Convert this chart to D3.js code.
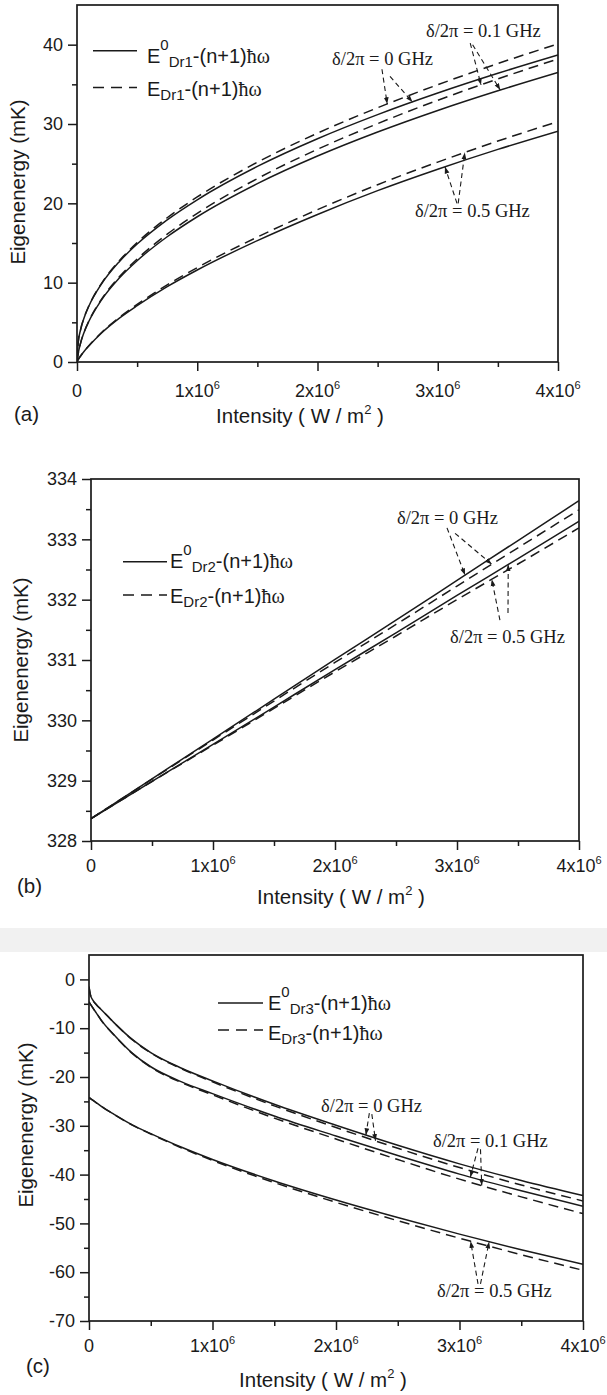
<!DOCTYPE html>
<html><head><meta charset="utf-8">
<script src="https://cdn.jsdelivr.net/npm/d3@7/dist/d3.min.js"></script>
<style>body{margin:0;background:#fff}svg{display:block}</style>
</head><body>
<svg id="chart" width="607" height="1395"></svg>
<script>
// ---------------- DATA ----------------
const xTickValues = [0, 1e6, 2e6, 3e6, 4e6];
const xMinorValues = [0.5e6, 1.5e6, 2.5e6, 3.5e6];
const xTickMantissa = ["0", "1x10", "2x10", "3x10", "4x10"];
const xTickExponent = ["", "6", "6", "6", "6"];

// Panel (a) — Dr1
const intensityA = [0, 1e4, 3e4, 6e4, 1e5, 2e5, 3.5e5, 5e5, 7.5e5, 1e6, 1.5e6, 2e6, 2.5e6, 3e6, 3.5e6, 4e6];
const a_E0_0GHz  = [0, 2.46, 4.08, 5.61, 7.09, 9.75, 12.62, 14.87, 17.92, 20.45, 24.65, 28.14, 31.18, 33.90, 36.39, 38.70];
const a_E_0GHz   = [0, 2.46, 4.09, 5.63, 7.12, 9.82, 12.74, 15.05, 18.18, 20.80, 25.18, 28.84, 32.05, 34.95, 37.62, 40.10];
const a_E0_01GHz = [0, 1.08, 2.40, 3.78, 5.17, 7.74, 10.55, 12.77, 15.79, 18.31, 22.48, 25.96, 28.99, 31.71, 34.19, 36.50];
const a_E_01GHz  = [0, 1.08, 2.41, 3.81, 5.21, 7.83, 10.70, 12.98, 16.11, 18.74, 23.12, 26.81, 30.05, 32.99, 35.68, 38.20];
const a_E0_05GHz = [0, 0.30, 0.75, 1.35, 2.05, 3.60, 5.50, 7.10, 9.50, 11.60, 15.30, 18.60, 21.60, 24.30, 26.80, 29.10];
const a_E_05GHz  = [0, 0.30, 0.76, 1.37, 2.08, 3.66, 5.61, 7.25, 9.73, 11.90, 15.75, 19.20, 22.35, 25.20, 27.85, 30.30];
const yTicksA = [0, 10, 20, 30, 40];
const yMinorA = [5, 15, 25, 35];

// Panel (b) — Dr2
const intensityB = [0, 0.5e6, 1e6, 1.5e6, 2e6, 2.5e6, 3e6, 3.5e6, 4e6];
const b_E0_0GHz  = [328.37, 329.03, 329.69, 330.35, 331.01, 331.66, 332.32, 332.98, 333.64];
const b_E_0GHz   = [328.37, 329.025, 329.674, 330.319, 330.96, 331.589, 332.225, 332.859, 333.49];
const b_E0_05GHz = [328.37, 328.99, 329.60, 330.22, 330.84, 331.45, 332.07, 332.68, 333.30];
const b_E_05GHz  = [328.37, 328.986, 329.588, 330.197, 330.804, 331.398, 332.001, 332.591, 333.19];
const yTicksB = [328, 329, 330, 331, 332, 333, 334];
const yMinorB = [328.5, 329.5, 330.5, 331.5, 332.5, 333.5];

// Panel (c) — Dr3
const intensityC = [0, 1e4, 3e4, 6e4, 1e5, 2e5, 3.5e5, 5e5, 7.5e5, 1e6, 1.5e6, 2e6, 2.5e6, 3e6, 3.5e6, 4e6];
const c_E0_0GHz  = [-1.5, -3.0, -4.2, -5.2, -6.2, -8.8, -12.3, -15.0, -18.2, -20.8, -25.6, -29.9, -34.0, -37.8, -41.2, -44.3];
const c_E_0GHz   = [-1.5, -3.0, -4.2, -5.2, -6.21, -8.82, -12.35, -15.07, -18.32, -20.98, -25.91, -30.35, -34.6, -38.56, -42.13, -45.4];
const c_E0_01GHz = [-4.6, -5.0, -5.8, -6.9, -8.4, -11.3, -15.1, -17.9, -21.0, -23.4, -28.0, -32.1, -36.1, -39.9, -43.3, -46.5];
const c_E_01GHz  = [-4.6, -5.0, -5.8, -6.9, -8.41, -11.33, -15.16, -18.0, -21.17, -23.65, -28.42, -32.71, -36.91, -40.93, -44.56, -48.0];
const c_E0_05GHz = [-24.2, -24.38, -24.74, -25.28, -26.0, -27.6, -29.8, -31.6, -34.4, -36.9, -41.3, -45.2, -48.8, -52.2, -55.4, -58.4];
const c_E_05GHz  = [-24.2, -24.38, -24.74, -25.28, -26.01, -27.62, -29.85, -31.68, -34.54, -37.1, -41.63, -45.69, -49.45, -53.03, -56.41, -59.6];
const yTicksC = [0, -10, -20, -30, -40, -50, -60, -70];
const yMinorC = [-5, -15, -25, -35, -45, -55, -65];

const annot0 = "δ/2π = 0 GHz", annot01 = "δ/2π = 0.1 GHz", annot05 = "δ/2π = 0.5 GHz";

// ---------------- LAYOUT ----------------
const SANS = "'Liberation Sans', Arial, sans-serif";
const SERIF = "'Liberation Serif', 'Times New Roman', serif";
const INK = "#1a1a1a";

const panels = [
  { tag: "(a)", sub: "Dr1", I: intensityA, yDomain: [0, 45], yTicks: yTicksA, yMinor: yMinorA,
    l: 77, r: 558, t: 5, b: 362,
    series: [ [a_E0_0GHz,false],[a_E_0GHz,true],[a_E0_01GHz,false],[a_E_01GHz,true],[a_E0_05GHz,false],[a_E_05GHz,true] ],
    tickBase: 397, titleBase: 423, titleX: 300, tagX: 14, tagBase: 421, yTitleX: 25, yTitleY: 182,
    legend: { x1: 93, x2: 137, y1: 50.7, y2: 87.5, tx: 147, b1: 63, b2: 96 },
    notes: [
      { text: annot01, I: 2.902e6, E: 40.97, arrows: [ {s:[3.27e6,40.2], k:3, at:3.36e6}, {s:[3.29e6,40.0], k:2, at:3.52e6} ] },
      { text: annot0, I: 2.121e6, E: 37.44, arrows: [ {s:[2.536e6,36.9], k:1, at:2.58e6}, {s:[2.603e6,36.0], k:0, at:2.79e6} ] },
      { text: annot05, I: 2.811e6, E: 18.28, arrows: [ {s:[3.16e6,20.0], k:4, at:3.06e6}, {s:[3.17e6,20.0], k:5, at:3.225e6} ] }
    ] },
  { tag: "(b)", sub: "Dr2", I: intensityB, yDomain: [328, 334], yTicks: yTicksB, yMinor: yMinorB,
    l: 91, r: 579, t: 479, b: 841,
    series: [ [b_E0_0GHz,false],[b_E_0GHz,true],[b_E0_05GHz,false],[b_E_05GHz,true] ],
    tickBase: 872, titleBase: 904, titleX: 341, tagX: 17, tagBase: 893, yTitleX: 28, yTitleY: 660,
    legend: { x1: 123, x2: 167, y1: 561.7, y2: 595, tx: 170, b1: 568, b2: 603 },
    notes: [
      { text: annot0, I: 2.508e6, E: 333.254, arrows: [ {s:[2.918e6,333.19], k:0, at:3.066e6}, {s:[2.984e6,333.10], k:1, at:3.285e6} ] },
      { text: annot05, I: 2.943e6, E: 331.282, arrows: [ {s:[3.352e6,331.66], k:3, at:3.285e6}, {s:[3.418e6,331.78], k:2, at:3.42e6} ] }
    ] },
  { tag: "(c)", sub: "Dr3", I: intensityC, yDomain: [-70, 5], yTicks: yTicksC, yMinor: yMinorC,
    l: 89, r: 583, t: 955, b: 1321,
    series: [ [c_E0_0GHz,false],[c_E_0GHz,true],[c_E0_01GHz,false],[c_E_01GHz,true],[c_E0_05GHz,false],[c_E_05GHz,true] ],
    tickBase: 1352, titleBase: 1387, titleX: 323, tagX: 26, tagBase: 1373, yTitleX: 33, yTitleY: 1125,
    legend: { x1: 218, x2: 263, y1: 1003, y2: 1030, tx: 268, b1: 1010, b2: 1040 },
    notes: [
      { text: annot0, I: 1.879e6, E: -27.17, arrows: [ {s:[2.27e6,-27.4], k:0, at:2.242e6}, {s:[2.29e6,-27.6], k:1, at:2.32e6} ] },
      { text: annot01, I: 2.785e6, E: -34.34, arrows: [ {s:[3.15e6,-34.6], k:2, at:3.088e6}, {s:[3.17e6,-34.8], k:3, at:3.18e6} ] },
      { text: annot05, I: 2.818e6, E: -65.08, arrows: [ {s:[3.15e6,-62.4], k:5, at:3.09e6}, {s:[3.17e6,-62.4], k:4, at:3.24e6} ] }
    ] }
];

const svg = d3.select("#chart");
const defs = svg.append("defs");
defs.append("marker").attr("id", "ah").attr("viewBox", "0 -4 9 8")
  .attr("refX", 9).attr("refY", 0).attr("markerWidth", 7).attr("markerHeight", 6)
  .attr("markerUnits", "userSpaceOnUse").attr("orient", "auto")
  .append("path").attr("d", "M0,-3.2L9,0L0,3.2Z").attr("fill", INK);

// faint scanned separator band between (b) and (c)
svg.append("rect").attr("x", 0).attr("y", 928).attr("width", 607).attr("height", 24).attr("fill", "#f1f1f1");

panels.forEach(p => {
  const g = svg.append("g");
  const x = d3.scaleLinear().domain([0, 4e6]).range([p.l, p.r]);
  const y = d3.scaleLinear().domain(p.yDomain).range([p.b, p.t]);

  const clipId = "clip" + p.sub;
  defs.append("clipPath").attr("id", clipId).append("rect")
    .attr("x", p.l).attr("y", p.t).attr("width", p.r - p.l).attr("height", p.b - p.t);

  const line = d3.line().x(d => x(d[0])).y(d => y(d[1])).curve(d3.curveMonotoneX);
  const cg = g.append("g").attr("clip-path", `url(#${clipId})`);
  p.series.forEach(([vals, dashed]) => {
    cg.append("path").datum(vals.map((v, i) => [p.I[i], v]))
      .attr("d", line).attr("fill", "none").attr("stroke", INK)
      .attr("stroke-width", 1.5).attr("stroke-dasharray", dashed ? "10,6" : null);
  });

  // frame
  g.append("rect").attr("x", p.l).attr("y", p.t).attr("width", p.r - p.l).attr("height", p.b - p.t)
    .attr("fill", "none").attr("stroke", INK).attr("stroke-width", 1.7);

  // x ticks
  const styleAxis = sel => { sel.select(".domain").remove(); sel.attr("color", INK); sel.selectAll("line").attr("stroke-width", 1.5); };
  g.append("g").attr("transform", `translate(0,${p.b})`)
    .call(d3.axisBottom(x).tickValues(xTickValues).tickSize(9).tickFormat("")).call(styleAxis);
  g.append("g").attr("transform", `translate(0,${p.b})`)
    .call(d3.axisBottom(x).tickValues(xMinorValues).tickSize(5).tickFormat("")).call(styleAxis);
  // y ticks
  g.append("g").attr("transform", `translate(${p.l},0)`)
    .call(d3.axisLeft(y).tickValues(p.yTicks).tickSize(9).tickPadding(5).tickFormat(d => String(d)))
    .call(styleAxis)
    .selectAll("text").attr("font-family", SANS).attr("font-size", 18).attr("fill", INK);
  g.append("g").attr("transform", `translate(${p.l},0)`)
    .call(d3.axisLeft(y).tickValues(p.yMinor).tickSize(5).tickFormat("")).call(styleAxis);

  // x tick labels with superscript exponent
  xTickValues.forEach((v, i) => {
    const t = g.append("text").attr("x", x(v)).attr("y", p.tickBase).attr("text-anchor", "middle")
      .attr("font-family", SANS).attr("font-size", 18).attr("fill", INK);
    t.append("tspan").text(xTickMantissa[i]);
    if (xTickExponent[i]) t.append("tspan").attr("font-size", 11).attr("dy", -8).text(xTickExponent[i]);
  });

  // axis titles
  const xt = g.append("text").attr("x", p.titleX).attr("y", p.titleBase).attr("text-anchor", "middle")
    .attr("font-family", SANS).attr("font-size", 20.5).attr("fill", INK);
  xt.append("tspan").text("Intensity ( W / m");
  xt.append("tspan").attr("font-size", 13).attr("dy", -9).text("2");
  xt.append("tspan").attr("dy", 9).text(" )");

  g.append("text").attr("transform", `translate(${p.yTitleX},${p.yTitleY}) rotate(-90)`)
    .attr("text-anchor", "middle").attr("font-family", SANS).attr("font-size", 20.5).attr("fill", INK)
    .text("Eigenenergy (mK)");

  g.append("text").attr("x", p.tagX).attr("y", p.tagBase).attr("font-family", SANS)
    .attr("font-size", 20.5).attr("fill", INK).text(p.tag);

  // legend
  const L = p.legend;
  g.append("line").attr("x1", L.x1).attr("x2", L.x2).attr("y1", L.y1).attr("y2", L.y1)
    .attr("stroke", INK).attr("stroke-width", 1.6);
  g.append("line").attr("x1", L.x1).attr("x2", L.x2).attr("y1", L.y2).attr("y2", L.y2)
    .attr("stroke", INK).attr("stroke-width", 1.6).attr("stroke-dasharray", "11,7");
  [[L.b1, true], [L.b2, false]].forEach(([base, hasSup]) => {
    const t = g.append("text").attr("x", L.tx).attr("y", base).attr("font-family", SANS)
      .attr("font-size", 20).attr("fill", INK);
    t.append("tspan").text("E");
    if (hasSup) t.append("tspan").attr("font-size", 15).attr("dy", -13).text("0");
    t.append("tspan").attr("font-size", 15).attr("dy", hasSup ? 17 : 4).text(p.sub);
    t.append("tspan").attr("dy", -4).text("-(n+1)");
    t.append("tspan").attr("font-family", SERIF).text("ħω");
  });

  // annotations
  p.notes.forEach(n => {
    g.append("text").attr("x", x(n.I)).attr("y", y(n.E)).attr("font-family", SERIF)
      .attr("font-size", 18.5).attr("fill", INK).text(n.text);
    n.arrows.forEach(a => {
      const ser = p.series[a.k][0];
      const interp = d3.scaleLinear().domain(p.I).range(ser);
      g.append("line").attr("x1", x(a.s[0])).attr("y1", y(a.s[1]))
        .attr("x2", x(a.at)).attr("y2", y(interp(a.at)))
        .attr("stroke", INK).attr("stroke-width", 1.1).attr("stroke-dasharray", "5,3.5")
        .attr("marker-end", "url(#ah)");
    });
  });
});
</script>
</body></html>
